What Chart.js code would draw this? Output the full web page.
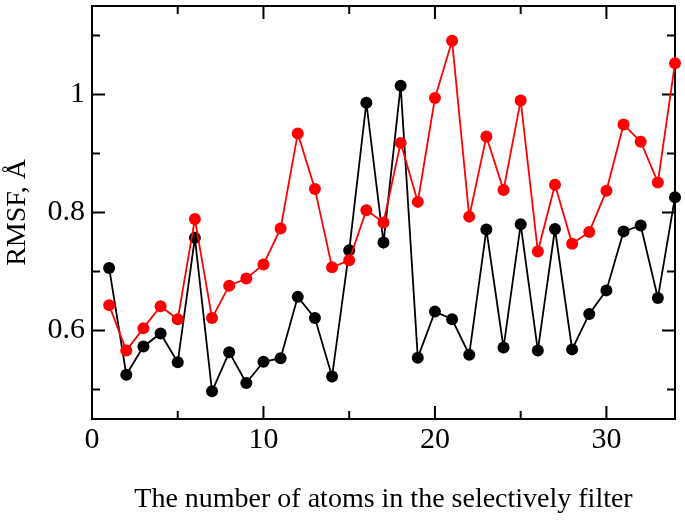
<!DOCTYPE html>
<html>
<head>
<meta charset="utf-8">
<script src="https://cdn.jsdelivr.net/npm/chart.js@4.4.0/dist/chart.umd.min.js"></script>
<style>
    html, body { margin: 0; padding: 0; background: #fff; }
    #wrap { width: 685px; height: 520px; }
</style>
</head>
<body>
<div id="wrap"><canvas id="rmsfChart" width="685" height="520"></canvas></div>
<script>
// Daten
const atoms = [1, 2, 3, 4, 5, 6, 7, 8, 9, 10, 11, 12, 13, 14, 15, 16, 17,
               18, 19, 20, 21, 22, 23, 24, 25, 26, 27, 28, 29, 30, 31, 32, 33, 34];
const rmsfBlack = [0.706, 0.525, 0.573, 0.595, 0.546, 0.757, 0.497, 0.563, 0.511, 0.547,
                   0.553, 0.657, 0.621, 0.522, 0.736, 0.986, 0.749, 1.015, 0.554, 0.632,
                   0.619, 0.559, 0.771, 0.571, 0.780, 0.566, 0.772, 0.568, 0.628, 0.668,
                   0.768, 0.778, 0.655, 0.826];
const rmsfRed = [0.643, 0.566, 0.604, 0.641, 0.619, 0.789, 0.621, 0.676, 0.688, 0.712,
                 0.773, 0.934, 0.840, 0.707, 0.719, 0.804, 0.783, 0.918, 0.818, 0.994,
                 1.091, 0.793, 0.929, 0.838, 0.990, 0.734, 0.847, 0.747, 0.767, 0.837,
                 0.949, 0.920, 0.851, 1.053];
const xTickLabels = [0, 10, 20, 30];
const yTickLabels = [0.6, 0.8, 1.0];
const xMinorStep = 5;
const yMinorStep = 0.1;

const FONT = "'Liberation Serif', 'Times New Roman', serif";

// Rahmen + nach innen zeigende Ticks (wie in xmgrace)
const frameTicks = {
    id: 'frameTicks',
    beforeDatasetsDraw(chart) {
        const { ctx, chartArea: a, scales: { x, y } } = chart;
        ctx.save();
        ctx.strokeStyle = '#000';
        ctx.lineWidth = 2;
        ctx.strokeRect(a.left, a.top, a.right - a.left, a.bottom - a.top);
        ctx.beginPath();
        for (let v = x.min; v <= x.max + 1e-9; v += xMinorStep) {
            const px = x.getPixelForValue(v);
            const len = v % 10 === 0 ? 13 : 8;
            ctx.moveTo(px, a.bottom); ctx.lineTo(px, a.bottom - len);
            ctx.moveTo(px, a.top); ctx.lineTo(px, a.top + len);
        }
        for (let k = 5; k <= 11; k++) {
            const py = y.getPixelForValue(k * yMinorStep);
            const len = k % 2 === 0 ? 13 : 8;
            ctx.moveTo(a.left, py); ctx.lineTo(a.left + len, py);
            ctx.moveTo(a.right, py); ctx.lineTo(a.right - len, py);
        }
        ctx.stroke();
        ctx.restore();
    }
};

new Chart(document.getElementById('rmsfChart'), {
    type: 'line',
    data: {
        labels: atoms,
        datasets: [
            {
                label: 'red',
                data: atoms.map((a, i) => ({ x: a, y: rmsfRed[i] })),
                borderColor: '#ff0000',
                backgroundColor: '#ff0000',
                pointBackgroundColor: '#ff0000',
                borderWidth: 1.8,
                pointRadius: 6,
                pointBorderWidth: 0,
                tension: 0,
                clip: false,
                order: 0,
            },
            {
                label: 'black',
                data: atoms.map((a, i) => ({ x: a, y: rmsfBlack[i] })),
                borderColor: '#000000',
                backgroundColor: '#000000',
                pointBackgroundColor: '#000000',
                borderWidth: 1.8,
                pointRadius: 6,
                pointBorderWidth: 0,
                tension: 0,
                clip: false,
                order: 1,
            },
        ]
    },
    options: {
        responsive: false,
        animation: false,
        layout: { padding: { left: 0, right: 10, top: 4, bottom: 0 } },
        plugins: {
            legend: { display: false },
            tooltip: { enabled: false },
        },
        scales: {
            x: {
                type: 'linear',
                min: 0,
                max: 34,
                border: { display: false },
                grid: { display: false, drawTicks: false },
                afterBuildTicks: s => { s.ticks = xTickLabels.map(v => ({ value: v })); },
                afterFit: s => { s.height = 101; s.paddingLeft = 0; s.paddingRight = 0; },
                ticks: {
                    color: '#000',
                    padding: 3,
                    autoSkip: false,
                    maxRotation: 0,
                    font: { family: FONT, size: 30 },
                    callback: v => String(v),
                },
                title: {
                    display: true,
                    text: 'The number of atoms in the selectively filter',
                    color: '#000',
                    font: { family: FONT, size: 28 },
                    padding: { top: 0, bottom: 4 },
                },
            },
            y: {
                type: 'linear',
                min: 0.45,
                max: 1.15,
                border: { display: false },
                grid: { display: false, drawTicks: false },
                afterBuildTicks: s => { s.ticks = yTickLabels.map(v => ({ value: v })); },
                afterFit: s => { s.width = 92; s.paddingTop = 0; s.paddingBottom = 0; },
                ticks: {
                    color: '#000',
                    padding: 7,
                    font: { family: FONT, size: 30 },
                    callback: v => String(+v.toFixed(1)),
                },
                title: {
                    display: true,
                    text: 'RMSF, Å',
                    color: '#000',
                    font: { family: FONT, size: 28 },
                    padding: { top: 1, bottom: 0 },
                },
            },
        },
    },
    plugins: [frameTicks],
});
</script>
</body>
</html>
